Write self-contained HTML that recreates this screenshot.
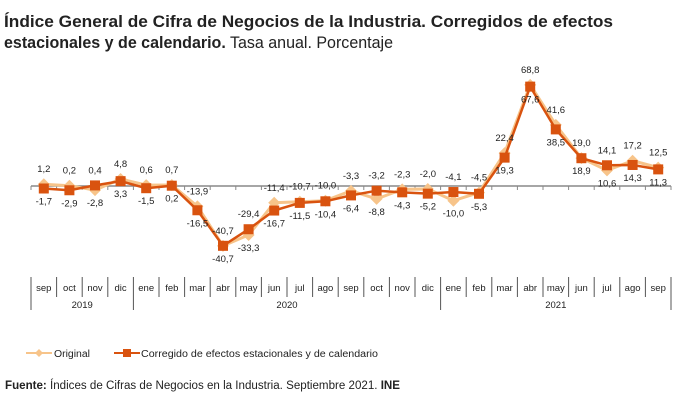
<!DOCTYPE html>
<html><head><meta charset="utf-8"><style>
body{margin:0;background:#fff;font-family:"Liberation Sans",Arial,sans-serif}
svg text{font-family:"Liberation Sans",Arial,sans-serif}
</style></head><body>
<svg width="680" height="406" viewBox="0 0 680 406">
<text x="4" y="27" font-size="16.5" font-weight="bold" fill="#222" textLength="609" lengthAdjust="spacingAndGlyphs">Índice General de Cifra de Negocios de la Industria. Corregidos de efectos</text>
<text x="4" y="48" font-size="16.5" fill="#222" textLength="389" lengthAdjust="spacingAndGlyphs"><tspan font-weight="bold">estacionales y de calendario.</tspan> Tasa anual. Porcentaje</text>
<g id="plot"></g>
<g>
<line x1="26" y1="353" x2="52" y2="353" stroke="#f7c48a" stroke-width="2"/>
<path d="M39 349L43 353L39 357L35 353Z" fill="#f7c48a"/>
<text x="54" y="357" font-size="10" fill="#222" textLength="36" lengthAdjust="spacingAndGlyphs">Original</text>
<line x1="114" y1="353" x2="140" y2="353" stroke="#d9530f" stroke-width="2"/>
<rect x="123" y="349" width="8" height="8" fill="#d9530f"/>
<text x="141" y="357" font-size="10" fill="#222" textLength="237" lengthAdjust="spacingAndGlyphs">Corregido de efectos estacionales y de calendario</text>
</g>
<text x="5" y="389" font-size="11.5" fill="#222" textLength="395" lengthAdjust="spacingAndGlyphs"><tspan font-weight="bold">Fuente:</tspan> Índices de Cifras de Negocios en la Industria. Septiembre 2021. <tspan font-weight="bold">INE</tspan></text>
</svg>
<script>
const months=["sep","oct","nov","dic","ene","feb","mar","abr","may","jun","jul","ago","sep","oct","nov","dic","ene","feb","mar","abr","may","jun","jul","ago","sep"];
const years=["2019","2020","2021"];
const yearSpans=[4,12,9];
const original=[1.2,0.2,-2.8,4.8,0.6,0.7,-13.9,-40.7,-33.3,-11.4,-10.7,-10.0,-3.3,-8.8,-2.3,-2.0,-10.0,-4.5,22.4,68.8,41.6,19.0,10.6,17.2,12.5];
const corrected=[-1.7,-2.9,0.4,3.3,-1.5,0.2,-16.5,-40.7,-29.4,-16.7,-11.5,-10.4,-6.4,-3.2,-4.3,-5.2,-4.1,-5.3,19.3,67.6,38.5,18.9,14.1,14.3,11.3];
const NS="http://www.w3.org/2000/svg";
const g=document.getElementById('plot');
const x0=31,step=25.6,y0=186,k=1.47;
const xs=i=>x0+step*(i+0.5);
const ys=v=>y0-v*k;
function mk(t,a){const e=document.createElementNS(NS,t);for(const n in a)e.setAttribute(n,a[n]);g.appendChild(e);return e;}
const fmt=v=>v.toFixed(1).replace('.',',');
let ax=mk('line',{x1:x0,y1:y0,x2:x0+step*25,y2:y0,stroke:'#888','stroke-width':1.5});


for(let i=0;i<=25;i++){mk('line',{x1:x0+step*i,y1:y0,x2:x0+step*i,y2:y0+4,stroke:'#888'});}
let b=0;const bounds=[0];yearSpans.forEach(s=>{b+=s;bounds.push(b);});
for(let i=0;i<=25;i++){
 const big=bounds.includes(i);
 mk('line',{x1:x0+step*i,y1:277,x2:x0+step*i,y2:big?310:297,stroke:'#555'});
}
months.forEach((m,i)=>{const t=mk('text',{x:xs(i),y:291,'font-size':9.5,'text-anchor':'middle',fill:'#222'});t.textContent=m;

});
years.forEach((y,j)=>{const c=x0+step*(bounds[j]+bounds[j+1])/2;const t=mk('text',{x:c,y:308,'font-size':9.5,'text-anchor':'middle',fill:'#222'});t.textContent=y;

});
const lo=mk('polyline',{points:original.map((v,i)=>xs(i)+','+ys(v)).join(' '),fill:'none',stroke:'#f7c48a','stroke-width':3});


original.forEach((v,i)=>{const d=mk('path',{d:`M${xs(i)} ${ys(v)-6}L${xs(i)+6} ${ys(v)}L${xs(i)} ${ys(v)+6}L${xs(i)-6} ${ys(v)}Z`,fill:'#f7c48a'});

});
const lc=mk('polyline',{points:corrected.map((v,i)=>xs(i)+','+ys(v)).join(' '),fill:'none',stroke:'#d9530f','stroke-width':2.5});


corrected.forEach((v,i)=>{const r=mk('rect',{x:xs(i)-5,y:ys(v)-5,width:10,height:10,fill:'#d9530f'});

});
original.forEach((v,i)=>{const c=corrected[i];const above=v>=c;
 const y=above?Math.min(ys(v),ys(c))-12:Math.max(ys(v),ys(c))+16;
 const t=mk('text',{x:xs(i),y:y,'font-size':9.5,'text-anchor':'middle',fill:'#222'});t.textContent=fmt(v);
 
 
 const y2=above?Math.max(ys(v),ys(c))+16:Math.min(ys(v),ys(c))-12;
 const t2=mk('text',{x:xs(i),y:y2,'font-size':9.5,'text-anchor':'middle',fill:'#222'});t2.textContent=fmt(c);
 
 
});
</script>
</body></html>
